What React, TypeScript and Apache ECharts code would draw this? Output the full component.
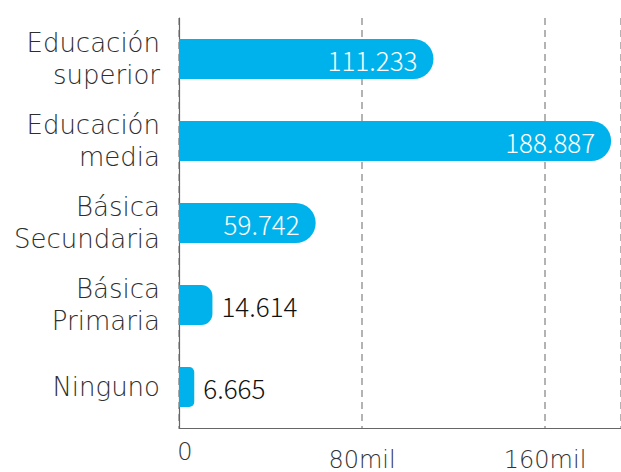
import React, { useEffect, useRef } from "react";
import * as echarts from "echarts";

const categories = ["Educación\nsuperior", "Educación\nmedia", "Básica\nSecundaria", "Básica\nPrimaria", "Ninguno"];
const values = [111233, 188887, 59742, 14614, 6665];
const tickLabels: Record<number, string> = { 0: "0", 80000: "80mil", 160000: "160mil" };

const FONT = "'DejaVu Sans', sans-serif";
const NUM_FONT = "'Noto Sans CJK SC', 'DejaVu Sans', sans-serif";
const AXIS_MAX = 193200;

function fmt(v: number) {
  return v.toLocaleString("de-DE");
}

export default function App() {
  const ref = useRef<HTMLDivElement>(null);
  useEffect(() => {
    if (!ref.current) return;
    const chart = echarts.init(ref.current, null, { renderer: "svg" });
    const scalePx = 442 / AXIS_MAX;
    const data = values.map((v) => {
      const w = v * scalePx;
      const r = Math.min(20, w / 3);
      const inside = v > 30000;
      return {
        value: v,
        itemStyle: { borderRadius: [0, r, r, 0] },
        label: inside
          ? { position: "insideRight", distance: 16, color: "#ffffff" }
          : { position: "right", distance: 9, color: "#111111" },
      };
    });
    chart.setOption({
      animation: false,
      grid: { left: 179, top: 18, bottom: 38.5, right: 0, containLabel: false },
      xAxis: {
        type: "value",
        min: 0,
        max: AXIS_MAX,
        interval: 80000,
        axisLine: { show: true, lineStyle: { color: "#666", width: 1.2 } },
        axisTick: { show: false },
        splitLine: {
          show: true,
          lineStyle: { color: "#9a9a9a", type: [7, 5], width: 1.5 },
        },
        axisLabel: {
          showMaxLabel: false,
          margin: 12,
          fontFamily: FONT,
          fontWeight: 200,
          fontSize: 24,
          color: "#333",
          formatter: (v: number) => {
            const t = tickLabels[v];
            if (t === undefined) return "";
            return v === 0 ? "{z|" + t + "}" : "{n|" + t + "}";
          },
          rich: {
            z: { fontFamily: FONT, fontWeight: 200, fontSize: 24, color: "#333", padding: [0, 0, 0, 12] },
            n: { fontFamily: FONT, fontWeight: 200, fontSize: 24, color: "#333", padding: [8, 0, 0, 0] },
          },
        },
      },
      yAxis: {
        type: "category",
        inverse: true,
        data: categories,
        axisLine: { show: true, lineStyle: { color: "#666", width: 1.2 } },
        axisTick: { show: false },
        axisLabel: {
          margin: 19,
          fontFamily: FONT,
          fontWeight: 200,
          fontSize: 26,
          lineHeight: 32,
          color: "#2e2e2e",
          align: "right",
          padding: [0, 0, 8, 0],
        },
      },
      series: [
        {
          type: "bar",
          data,
          barWidth: 40,
          itemStyle: { color: "#00b2eb" },
          label: {
            show: true,
            fontFamily: NUM_FONT,
            fontWeight: 300,
            fontSize: 26,
            formatter: (p: any) => fmt(p.value),
          },
        },
      ],
    });
    return () => chart.dispose();
  }, []);
  return (
    <div
      ref={ref}
      style={{ position: "fixed", left: 0, top: 0, width: 621, height: 472, overflow: "hidden", background: "#fff" }}
    />
  );
}
